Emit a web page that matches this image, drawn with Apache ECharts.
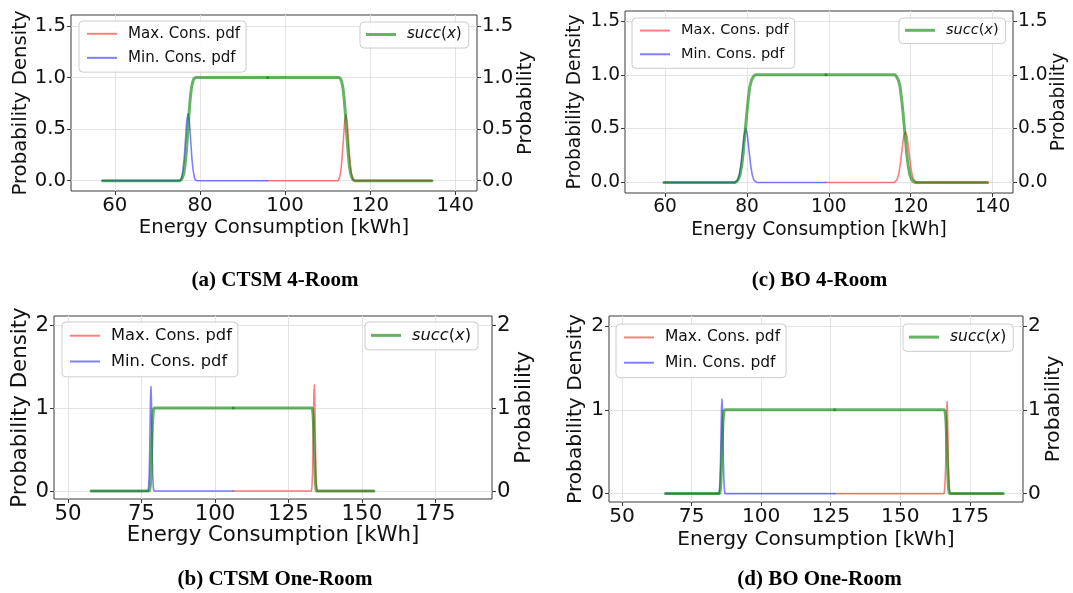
<!DOCTYPE html>
<html><head><meta charset="utf-8">
<script src="https://cdn.jsdelivr.net/npm/echarts/dist/echarts.min.js"></script>
<style>html,body{margin:0;padding:0;background:#fff}#c{width:1073px;height:593px}</style>
</head><body><div id="c"></div><script>
// ---------------- DATA ----------------
const seriesNames = ['Max. Cons. pdf', 'Min. Cons. pdf', 'succ(x)'];
const captions = ['(a) CTSM 4-Room', '(b) CTSM One-Room', '(c) BO 4-Room', '(d) BO One-Room'];
const xTitle = 'Energy Consumption [kWh]';
const yTitleLeft = 'Probability Density';
const yTitleRight = 'Probability';
const xTicks4Room = [60, 80, 100, 120, 140];
const xTicksOneRoom = [50, 75, 100, 125, 150, 175];
const yTicks4Room = [0, 0.5, 1.0, 1.5];
const yTicksOneRoom = [0, 1, 2];

// (a) CTSM 4-Room
const minPdfA = [[57.1,0],[75.3,0],[75.5,0.01],[75.7,0.03],[76.0,0.10],[76.3,0.22],[76.6,0.40],[76.9,0.58],[77.2,0.65],[77.5,0.58],[77.8,0.40],[78.1,0.22],[78.4,0.10],[78.7,0.03],[78.9,0.01],[79.2,0],[95.9,0]];
const maxPdfA = [[95.9,0],[112.4,0],[112.6,0.01],[112.8,0.03],[113.1,0.09],[113.4,0.22],[113.7,0.40],[114.0,0.57],[114.3,0.64],[114.6,0.57],[114.9,0.40],[115.2,0.22],[115.5,0.09],[115.8,0.03],[116.0,0.01],[116.3,0],[134.5,0]];
const succA = [[57.1,0],[75.3,0],[75.6,0.01],[75.9,0.03],[76.2,0.07],[76.5,0.15],[76.8,0.28],[77.1,0.45],[77.4,0.63],[77.7,0.79],[78.0,0.90],[78.3,0.96],[78.6,0.99],[79.0,1.0],[95.9,1.0],[112.7,1.0],[113.0,0.99],[113.3,0.96],[113.6,0.90],[113.9,0.79],[114.2,0.63],[114.5,0.45],[114.8,0.28],[115.1,0.15],[115.4,0.07],[115.7,0.03],[116.0,0.01],[116.3,0],[134.5,0]];

// (b) CTSM One-Room
const minPdfB = [[57.8,0],[77.2,0],[77.4,0.05],[77.6,0.19],[77.75,0.44],[77.9,0.79],[78.05,1.12],[78.2,1.26],[78.35,1.12],[78.5,0.79],[78.65,0.44],[78.8,0.19],[79.0,0.05],[79.2,0],[106.2,0]];
const maxPdfB = [[106.2,0],[132.8,0],[133.0,0.05],[133.2,0.19],[133.35,0.45],[133.5,0.80],[133.65,1.14],[133.8,1.28],[133.95,1.14],[134.1,0.80],[134.25,0.45],[134.4,0.19],[134.6,0.05],[134.8,0],[154.1,0]];
const succB = [[57.8,0],[77.6,0],[77.8,0.02],[78.0,0.07],[78.15,0.16],[78.3,0.31],[78.45,0.5],[78.6,0.69],[78.75,0.84],[78.9,0.93],[79.05,0.98],[79.3,1.0],[106.2,1.0],[133.0,1.0],[133.2,0.98],[133.35,0.93],[133.5,0.84],[133.65,0.69],[133.8,0.5],[133.95,0.31],[134.1,0.16],[134.25,0.07],[134.4,0.02],[134.6,0],[154.1,0]];

// (c) BO 4-Room
const minPdfC = [[59.7,0],[77.0,0],[77.3,0.01],[77.7,0.02],[78.1,0.07],[78.5,0.16],[78.9,0.30],[79.3,0.44],[79.7,0.50],[80.1,0.44],[80.5,0.30],[80.9,0.16],[81.3,0.07],[81.7,0.02],[82.1,0.01],[82.4,0],[99.3,0]];
const maxPdfC = [[99.3,0],[116.0,0],[116.3,0.01],[116.7,0.03],[117.1,0.08],[117.5,0.18],[117.9,0.31],[118.3,0.43],[118.7,0.47],[119.1,0.43],[119.5,0.31],[119.9,0.18],[120.3,0.08],[120.7,0.03],[121.1,0.01],[121.4,0],[138.8,0]];
const succC = [[59.7,0],[77.1,0],[77.5,0.01],[77.9,0.03],[78.3,0.07],[78.7,0.15],[79.1,0.28],[79.5,0.45],[79.9,0.62],[80.3,0.77],[80.7,0.89],[81.1,0.95],[81.5,0.98],[82.0,1.0],[99.3,1.0],[116.2,1.0],[116.6,0.98],[117.0,0.95],[117.4,0.89],[117.8,0.77],[118.2,0.62],[118.6,0.45],[119.0,0.28],[119.4,0.15],[119.8,0.07],[120.2,0.03],[120.6,0.01],[121.1,0],[138.8,0]];

// (d) BO One-Room
const minPdfD = [[65.6,0],[84.8,0],[85.0,0.04],[85.2,0.16],[85.4,0.41],[85.55,0.69],[85.72,1.0],[85.9,1.13],[86.08,1.0],[86.25,0.69],[86.4,0.41],[86.6,0.16],[86.8,0.04],[87.0,0],[126.4,0]];
const maxPdfD = [[126.4,0],[165.7,0],[165.9,0.04],[166.1,0.15],[166.35,0.40],[166.5,0.69],[166.65,0.97],[166.8,1.10],[166.95,0.97],[167.1,0.69],[167.25,0.40],[167.5,0.15],[167.7,0.04],[167.9,0],[187.0,0]];
const succD = [[65.6,0],[85.0,0],[85.2,0.02],[85.4,0.08],[85.55,0.16],[85.7,0.29],[85.9,0.5],[86.1,0.71],[86.25,0.84],[86.4,0.92],[86.6,0.98],[86.9,1.0],[126.4,1.0],[165.8,1.0],[166.1,0.98],[166.3,0.92],[166.45,0.84],[166.6,0.71],[166.8,0.5],[167.0,0.29],[167.15,0.16],[167.3,0.08],[167.5,0.02],[167.8,0],[187.0,0]];

// ---------------- LAYOUT / STYLE ----------------
const FONT = 'DejaVu Sans';
const TXT = '#111';
const RED = 'rgba(255,0,0,0.5)', BLUE = 'rgba(0,0,255,0.5)', GREEN = 'rgba(0,128,0,0.6)';

const panels = [
  {cap: captions[0], capPos: [275, 281], grid: {left: 71, top: 15, width: 406, height: 176}, x: [49.7, 145.1], y: [-0.1, 1.607],
   xt: xTicks4Room, yt: yTicks4Room, dec: 1, fs: 19.7, lfs: 15.1, gapX: 27, gapL: 40, gapR: 39,
   legL: [79, 21], legR: [360, 22], data: [maxPdfA, minPdfA, succA]},
  {cap: captions[1], capPos: [275, 580], grid: {left: 54, top: 316, width: 438, height: 183}, x: [45.2, 194.3], y: [-0.096, 2.11],
   xt: xTicksOneRoom, yt: yTicksOneRoom, dec: 0, fs: 21.3, lfs: 16.3, gapX: 26, gapL: 23.5, gapR: 21.5,
   legL: [62, 322], legR: [365, 322], data: [maxPdfB, minPdfB, succB]},
  {cap: captions[2], capPos: [819.5, 281], grid: {left: 625, top: 11, width: 388, height: 182}, x: [50.2, 145.0], y: [-0.098, 1.593],
   xt: xTicks4Room, yt: yTicks4Room, dec: 1, fs: 18.6, lfs: 14.5, gapX: 28, gapL: 40, gapR: 37,
   legL: [632, 18], legR: [899, 18], data: [maxPdfC, minPdfC, succC]},
  {cap: captions[3], capPos: [819.5, 580], grid: {left: 609, top: 316, width: 414, height: 186}, x: [45.3, 194.1], y: [-0.1, 2.12],
   xt: xTicksOneRoom, yt: yTicksOneRoom, dec: 0, fs: 20.2, lfs: 15.5, gapX: 28, gapL: 23.5, gapR: 21,
   legL: [616, 324], legR: [903, 324], data: [maxPdfD, minPdfD, succD]}
];

const grids = [], xAxes = [], yAxes = [], series = [], legends = [], graphics = [];
panels.forEach((p, i) => {
  grids.push(Object.assign({show: true, borderColor: '#3a3a3a', borderWidth: 1, backgroundColor: 'transparent', outerBoundsMode: 'none', containLabel: false}, p.grid));
  const tick = {show: true, length: 4, inside: false, lineStyle: {color: '#3a3a3a', width: 1}};
  xAxes.push({
    type: 'value', gridIndex: i, min: p.x[0], max: p.x[1],
    name: xTitle, nameLocation: 'middle', nameGap: p.gapX, nameMoveOverlap: false,
    nameTextStyle: {fontFamily: FONT, fontSize: p.fs, color: TXT},
    axisLine: {show: false, onZero: false},
    axisTick: Object.assign({customValues: p.xt}, tick),
    axisLabel: {customValues: p.xt, margin: 5, fontFamily: FONT, fontSize: p.fs, color: TXT, formatter: v => String(v), hideOverlap: false},
    splitLine: {show: true, lineStyle: {color: '#e3e3e3', width: 1}}
  });
  const fmt = v => p.dec ? v.toFixed(1) : String(Math.round(v));
  ['left', 'right'].forEach(pos => {
    yAxes.push({
      type: 'value', gridIndex: i, position: pos, min: p.y[0], max: p.y[1],
      name: pos === 'left' ? yTitleLeft : yTitleRight, nameLocation: 'middle', nameRotate: 90,
      nameGap: pos === 'left' ? p.gapL : p.gapR, nameMoveOverlap: false,
      nameTextStyle: {fontFamily: FONT, fontSize: p.fs, color: TXT},
      axisLine: {show: false, onZero: false},
      axisTick: Object.assign({customValues: p.yt}, tick),
      axisLabel: {customValues: p.yt, margin: 5, fontFamily: FONT, fontSize: p.fs, color: TXT, formatter: fmt, hideOverlap: false},
      splitLine: {show: pos === 'left', lineStyle: {color: '#e3e3e3', width: 1}}
    });
  });
  const [dMax, dMin, dSucc] = p.data;
  // smooth is a tiny non-zero value so every point is stroked (no segment skipping); segments stay straight
  const mk = (name, data, color, width, z) => ({
    type: 'line', name, data, xAxisIndex: i, yAxisIndex: i * 2, color,
    smooth: 0.001, showSymbol: false, symbol: 'none',
    silent: true, animation: false, clip: true, z,
    lineStyle: {color, width, join: 'round', cap: 'round'}
  });
  series.push(mk(seriesNames[1], dMin, BLUE, 1.6, 2));
  series.push(mk(seriesNames[0], dMax, RED, 1.6, 3));
  // succ(x) is drawn in two halves that meet where the two pdf curves meet (as in the reference)
  const splitX = dMin[dMin.length - 1][0];
  const k = dSucc.findIndex(pt => pt[0] === splitX);
  series.push(mk(seriesNames[2], dSucc.slice(0, k + 1), GREEN, 3, 4));
  series.push(mk(seriesNames[2], dSucc.slice(k), GREEN, 3, 4));

  const legBase = {
    orient: 'vertical', icon: 'rect', itemWidth: 30, selectedMode: false,
    borderColor: '#cccccc', borderWidth: 1, borderRadius: 4, backgroundColor: 'rgba(255,255,255,0.85)',
    itemStyle: {borderWidth: 0},
    textStyle: {fontFamily: FONT, fontSize: p.lfs, color: TXT, padding: [0, 0, 0, 6],
      rich: {i: {fontFamily: FONT, fontSize: p.lfs, fontStyle: 'italic', color: TXT}}}
  };
  legends.push(Object.assign({}, legBase, {
    left: p.legL[0], top: p.legL[1], itemHeight: 2, itemGap: p.lfs * 0.6,
    padding: [p.lfs * 0.35, 6, p.lfs * 0.45, 8], data: [seriesNames[0], seriesNames[1]]
  }));
  legends.push(Object.assign({}, legBase, {
    left: p.legR[0], top: p.legR[1], itemHeight: 3,
    padding: [p.lfs * 0.33, 7, p.lfs * 0.4, 6], data: [seriesNames[2]],
    formatter: n => '{i|succ}({i|x})'
  }));
  graphics.push({type: 'text', x: p.capPos[0], y: p.capPos[1], silent: true,
    style: {text: p.cap, font: 'bold 21px "Liberation Serif"', fill: '#000', align: 'center', verticalAlign: 'middle', textAlign: 'center', textVerticalAlign: 'middle'}});
});

const chart = echarts.init(document.getElementById('c'), null, {renderer: 'canvas'});
chart.setOption({
  animation: false,
  backgroundColor: '#fff',
  textStyle: {fontFamily: FONT},
  grid: grids, xAxis: xAxes, yAxis: yAxes, series, legend: legends, graphic: graphics
});
</script></body></html>
